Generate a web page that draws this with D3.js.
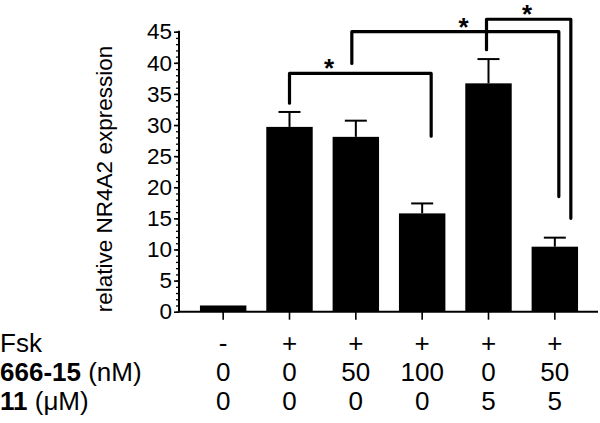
<!DOCTYPE html>
<html>
<head>
<meta charset="utf-8">
<script src="https://cdn.jsdelivr.net/npm/d3@7"></script>
<style>
  html, body { margin: 0; padding: 0; background: #fff; }
  svg { display: block; font-family: "Liberation Sans", Arial, Helvetica, sans-serif; }
</style>
</head>
<body>
<svg id="chart" width="600" height="423"></svg>
<script>
// ---- data ----
const groups = ["g1", "g2", "g3", "g4", "g5", "g6"];
const means = [1.0, 29.7, 28.1, 15.8, 36.7, 10.45];
const errors = [0.0, 2.4, 2.6, 1.6, 3.9, 1.45];
const yTicks = [0, 5, 10, 15, 20, 25, 30, 35, 40, 45];
const yLabel = "relative NR4A2 expression";
const fskRow = ["-", "+", "+", "+", "+", "+"];
const cmpRow = ["0", "0", "50", "100", "0", "50"];
const c11Row = ["0", "0", "0", "0", "5", "5"];
// significance brackets: from group, to group, top, left end, right end (data units)
const bracketFrom = [1, 2, 4];
const bracketTo = [3, 5, 5];
const bracketTop = [38.3, 45.0, 47.0];
const bracketLeftEnd = [33.5, 39.9, 42.1];
const bracketRightEnd = [28.2, 18.5, 15.0];

// ---- layout ----
const svg = d3.select("#chart");
const y0 = 311.7, y45 = 31.7;
const axisX = 179;
const y = d3.scaleLinear().domain([0, 45]).range([y0, y45]);
const x = d3.scaleBand().domain(groups).range([190, 588]).paddingInner(0.3).paddingOuter(0.15);
const cx = i => x(groups[i]) + x.bandwidth() / 2;

// bars
svg.append("g").selectAll("rect").data(means).join("rect")
  .attr("x", (d, i) => x(groups[i]))
  .attr("y", d => y(d))
  .attr("width", x.bandwidth())
  .attr("height", d => y(0) - y(d))
  .attr("fill", "#000");

// error bars
const eb = svg.append("g").attr("stroke", "#000").attr("stroke-width", 2);
means.forEach((m, i) => {
  if (errors[i] <= 0) return;
  eb.append("line").attr("x1", cx(i)).attr("x2", cx(i)).attr("y1", y(m)).attr("y2", y(m + errors[i]));
  eb.append("line").attr("x1", cx(i) - 11).attr("x2", cx(i) + 11).attr("y1", y(m + errors[i])).attr("y2", y(m + errors[i]));
});

// y axis with minor ticks
const yAxisG = svg.append("g").attr("transform", `translate(${axisX},0)`);
yAxisG.call(d3.axisLeft(y).tickValues(d3.range(0, 46, 1)).tickSize(3).tickFormat(""))
  .call(g => g.select(".domain").remove())
  .call(g => g.selectAll("line").attr("stroke-width", 1.3));
yAxisG.append("g").call(d3.axisLeft(y).tickValues(yTicks).tickSize(5).tickPadding(2))
  .call(g => g.select(".domain").remove())
  .call(g => g.selectAll("line").attr("stroke-width", 1.6))
  .call(g => g.selectAll("text").attr("font-size", 22.5).attr("fill", "#000")
    .attr("font-family", "'Liberation Sans', Arial, sans-serif"));
yAxisG.append("line").attr("x1", 0).attr("x2", 0).attr("y1", y(0)).attr("y2", y(45) - 1)
  .attr("stroke", "#000").attr("stroke-width", 2);

// x axis
const xAxisG = svg.append("g").attr("transform", `translate(0,${y0})`);
xAxisG.call(d3.axisBottom(x).tickSize(8).tickFormat(""))
  .call(g => g.select(".domain").remove())
  .call(g => g.selectAll("line").attr("stroke-width", 1.6));
xAxisG.append("line").attr("x1", axisX).attr("x2", 598).attr("y1", 0).attr("y2", 0)
  .attr("stroke", "#000").attr("stroke-width", 2);

// y label
svg.append("text")
  .attr("transform", "translate(112,179) rotate(-90)")
  .attr("text-anchor", "middle")
  .attr("font-size", 22.5)
  .attr("fill", "#000")
  .text(yLabel);

// brackets
const leftOff = [0, -4, -2];
const rightOff = [9, 4, 16];
const starFrac = [0.28, 0.54, 0.48];
const br = svg.append("g").attr("fill", "none").attr("stroke", "#000").attr("stroke-width", 3.2)
  .attr("stroke-linecap", "round").attr("stroke-linejoin", "round");
bracketFrom.forEach((f, k) => {
  const xl = cx(f) + leftOff[k], xr = cx(bracketTo[k]) + rightOff[k];
  const path = d3.path();
  path.moveTo(xl, y(bracketLeftEnd[k]));
  path.lineTo(xl, y(bracketTop[k]));
  path.lineTo(xr, y(bracketTop[k]));
  path.lineTo(xr, y(bracketRightEnd[k]));
  br.append("path").attr("d", path.toString());
  svg.append("text")
    .attr("x", xl + (xr - xl) * starFrac[k])
    .attr("y", y(bracketTop[k]) + 4)
    .attr("text-anchor", "middle")
    .attr("font-size", 26)
    .attr("font-weight", "bold")
    .attr("fill", "#000")
    .text("*");
});

// treatment table
const rowY = [352, 381, 410];
const rows = [fskRow, cmpRow, c11Row];
const tbl = svg.append("g").attr("font-size", 26).attr("fill", "#000");
tbl.append("text").attr("x", 0).attr("y", rowY[0]).text("Fsk");
const lab2 = tbl.append("text").attr("x", 0).attr("y", rowY[1]);
lab2.append("tspan").attr("font-weight", "bold").text("666-15");
lab2.append("tspan").text(" (nM)");
const lab3 = tbl.append("text").attr("x", 0).attr("y", rowY[2]);
lab3.append("tspan").attr("font-weight", "bold").text("11");
lab3.append("tspan").text(" (\u03BCM)");
rows.forEach((r, ri) => {
  tbl.append("g").selectAll("text").data(r).join("text")
    .attr("x", (d, i) => cx(i))
    .attr("y", rowY[ri])
    .attr("text-anchor", "middle")
    .text(d => d);
});
</script>
</body>
</html>
